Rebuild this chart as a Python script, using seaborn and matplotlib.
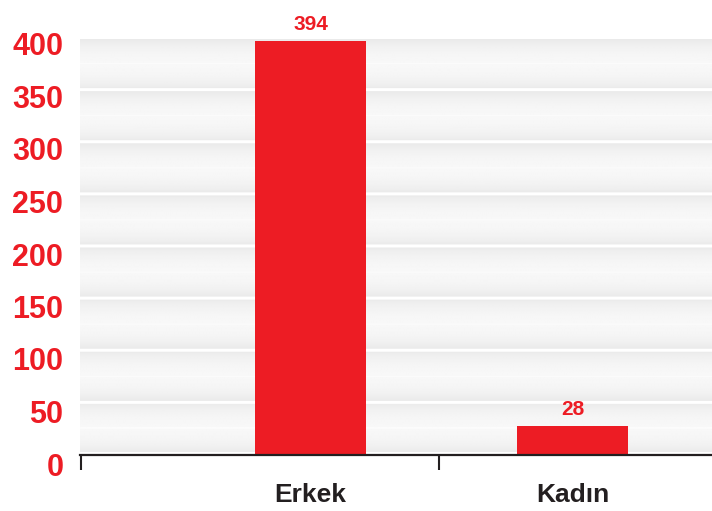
import numpy as np
import pandas as pd
import matplotlib
matplotlib.use("Agg")
import matplotlib.pyplot as plt
import matplotlib.transforms as mtransforms
from matplotlib.ticker import FixedLocator
import seaborn as sns

categories = ["Erkek", "Kadın"]
values = [394, 28]
y_ticks = [0, 50, 100, 150, 200, 250, 300, 350, 400]

RED = "#ed1c24"
DARK = "#231f20"

sns.set_style("white")
plt.rcParams["font.family"] = ["Liberation Sans", "DejaVu Sans"]

df = pd.DataFrame({"category": categories, "value": values})

fig = plt.figure(figsize=(7.12, 5.11), dpi=100)
ax = fig.add_axes([80 / 712, 1 - 455 / 511, 632 / 712, 441 / 511])

sns.barplot(data=df, x="category", y="value", color=RED, saturation=1,
            width=0.423, linewidth=0, ax=ax, zorder=2)

xlo, xhi = -0.878, 1.53
ytop_lim = 420
ax.set_xlim(xlo, xhi)
ax.set_ylim(0, ytop_lim)

# striped decorative background
band_top_frac = (455 - 40) / 441
ytop = ytop_lim * band_top_frac
n = 415
rows = np.zeros(n)
band_h = n / 8
for i in range(n):
    pos = (i % band_h) / band_h
    if pos > 0.94:
        rows[i] = 1.0
    else:
        t = pos / 0.94
        v = 0.915 + 0.055 * np.sin(np.pi * t) ** 0.7
        if abs(t - 0.5) < 0.012:
            v = 0.985
        rows[i] = v
img = np.tile(rows[:, None], (1, 4))
ax.imshow(img, extent=[xlo, xhi, 0, ytop], origin="upper", aspect="auto",
          cmap="gray", vmin=0, vmax=1, zorder=0, interpolation="bilinear")
ax.set_xlim(xlo, xhi)
ax.set_ylim(0, ytop_lim)

ax.bar_label(ax.containers[0], labels=[str(v) for v in values], padding=5,
             color=RED, fontsize=15, fontweight="bold", zorder=3)

ax.set_yticks(y_ticks)
ax.set_yticklabels([str(t) for t in y_ticks])
ax.tick_params(axis="y", left=False, length=0, pad=12, labelsize=22, labelcolor=RED)
for lab in ax.get_yticklabels():
    lab.set_fontweight("bold")
    lab.set_transform(lab.get_transform() +
                      mtransforms.ScaledTranslation(0, -9 / 100, fig.dpi_scale_trans))

ax.tick_params(axis="x", which="major", bottom=False, length=0, pad=20,
               labelsize=19, labelcolor=DARK)
for lab in ax.get_xticklabels():
    lab.set_fontweight("bold")
ax.xaxis.set_minor_locator(FixedLocator([xlo + 0.004, 0.491]))
ax.tick_params(axis="x", which="minor", bottom=True, length=11, width=1.5,
               color=DARK, direction="out")

for s in ["left", "top", "right"]:
    ax.spines[s].set_visible(False)
ax.spines["bottom"].set_color(DARK)
ax.spines["bottom"].set_linewidth(1.6)
ax.spines["bottom"].set_zorder(4)
ax.set_xlabel("")
ax.set_ylabel("")
ax.grid(False)

fig.savefig("out.png", dpi=100)
